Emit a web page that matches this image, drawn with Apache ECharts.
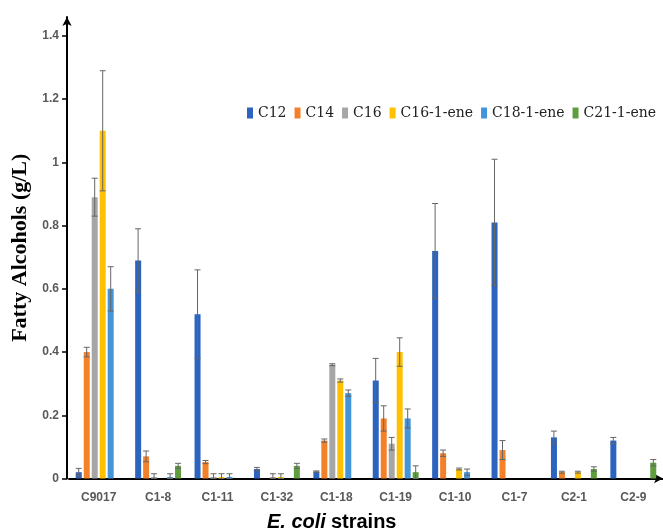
<!DOCTYPE html>
<html>
<head>
<meta charset="utf-8">
<script src="https://cdn.jsdelivr.net/npm/echarts@6/dist/echarts.min.js"></script>
<style>html,body{margin:0;padding:0;background:#fff}#c{width:663px;height:532px}</style>
</head>
<body>
<div id="c"></div>
<script>
var categories = ['C9017','C1-8','C1-11','C1-32','C1-18','C1-19','C1-10','C1-7','C2-1','C2-9'];
var seriesNames = ['C12','C14','C16','C16-1-ene','C18-1-ene','C21-1-ene'];
var c12  = [0.02, 0.69, 0.52, 0.03, 0.022, 0.31, 0.72, 0.81, 0.13, 0.12];
var c12e = [0.012,0.10, 0.14, 0.005,0.002, 0.07, 0.15, 0.20, 0.02, 0.01];
var c14  = [0.40, 0.07, 0.052,0,    0.12,  0.19, 0.08, 0.09, 0.02, 0];
var c14e = [0.015,0.017,0.005,0,    0.005, 0.04, 0.01, 0.03, 0.003,0];
var c16  = [0.89, 0.005,0.005,0.005,0.36,  0.11, 0,    0,    0,    0];
var c16e = [0.06, 0.01, 0.01, 0.01, 0.003, 0.02, 0,    0,    0,    0];
var c161 = [1.10, 0,    0.005,0.005,0.31,  0.40, 0.03, 0,    0.02, 0];
var c161e= [0.19, 0,    0.01, 0.01, 0.005, 0.045,0.003,0,    0.003,0];
var c181 = [0.60, 0.005,0.005,0,    0.27,  0.19, 0.02, 0,    0,    0];
var c181e= [0.07, 0.01, 0.01, 0,    0.01,  0.03, 0.01, 0,    0,    0];
var c211 = [0,    0.04, 0,    0.04, 0,     0.02, 0,    0,    0.03, 0.05];
var c211e= [0,    0.008,0,    0.008,0,     0.02, 0,    0,    0.007,0.01];
var yTicks = [0, 0.2, 0.4, 0.6, 0.8, 1, 1.2, 1.4];

var values = [c12, c14, c16, c161, c181, c211];
var errors = [c12e, c14e, c16e, c161e, c181e, c211e];
var colors = ['#2B63BF', '#F5802A', '#A6A6A6', '#FFC000', '#4394D8', '#5E9E3E'];

var BAR_W = 6, BAR_STEP = 8;

function errRender(offset) {
  return function (params, api) {
    var x = api.value(0), v = api.value(1), e = api.value(2);
    if (!e) return null;
    var hi = api.coord([x, v + e]);
    var lo = api.coord([x, Math.max(v - e, 0)]);
    var cx = hi[0] + offset;
    var w = 3;
    var st = { stroke: '#666', lineWidth: 1 };
    return {
      type: 'group',
      children: [
        { type: 'line', shape: { x1: cx, y1: hi[1], x2: cx, y2: lo[1] }, style: st },
        { type: 'line', shape: { x1: cx - w, y1: hi[1], x2: cx + w, y2: hi[1] }, style: st },
        { type: 'line', shape: { x1: cx - w, y1: lo[1], x2: cx + w, y2: lo[1] }, style: st }
      ]
    };
  };
}

var series = [];
seriesNames.forEach(function (n, i) {
  series.push({
    name: n, type: 'bar', data: values[i], barWidth: BAR_W, barGap: '33%',
    itemStyle: { color: colors[i] }, silent: true
  });
});
seriesNames.forEach(function (n, i) {
  series.push({
    name: n + '-err', type: 'custom', z: 5, silent: true,
    renderItem: errRender((i - 2.5) * BAR_STEP),
    data: values[i].map(function (v, k) { return [k, v, errors[i][k]]; })
  });
});

var chart = echarts.init(document.getElementById('c'), null, { renderer: 'canvas' });
chart.setOption({
  animation: false,
  backgroundColor: '#fff',
  color: colors,
  title: {
    text: '{i|E. coli} {n|strains}',
    left: 262, top: 507,
    textStyle: {
      rich: {
        i: { fontFamily: 'Liberation Sans', fontSize: 20, fontWeight: 'bold', fontStyle: 'italic', color: '#000' },
        n: { fontFamily: 'Liberation Sans', fontSize: 20, fontWeight: 'bold', color: '#000' }
      }
    }
  },
  legend: {
    data: seriesNames,
    left: 247, top: 106, width: 440,
    icon: 'rect', itemWidth: 6, itemHeight: 11, itemGap: 8, padding: 0,
    textStyle: { fontFamily: 'DejaVu Serif', fontSize: 14, color: '#222' }
  },
  grid: { left: 69, top: 17, width: 600, bottom: 53.5, containLabel: false },
  xAxis: {
    type: 'category', data: categories,
    axisLine: { show: true, lineStyle: { color: '#000', width: 2 }, symbol: ['none', 'arrow'], symbolSize: [7, 9] },
    axisTick: { show: false },
    axisLabel: { color: '#595959', fontFamily: 'Liberation Sans', fontWeight: 'bold', fontSize: 12, margin: 13 },
    splitLine: { show: false }
  },
  yAxis: {
    type: 'value', min: 0, max: 1.46, offset: 2,
    name: 'Fatty Alcohols (g/L)', nameLocation: 'middle', nameRotate: 90, nameGap: 36,
    nameTextStyle: { fontFamily: 'Liberation Serif', fontWeight: 'bold', fontSize: 22, color: '#000' },
    axisLine: { show: true, lineStyle: { color: '#000', width: 2 }, symbol: ['none', 'arrow'], symbolSize: [7, 9] },
    axisTick: { show: true, length: 5, lineStyle: { color: '#000', width: 1.5 }, customValues: yTicks },
    axisLabel: { color: '#595959', fontFamily: 'Liberation Sans', fontWeight: 'bold', fontSize: 12, margin: 8, customValues: yTicks },
    splitLine: { show: false }
  },
  series: series
});
</script>
</body>
</html>
